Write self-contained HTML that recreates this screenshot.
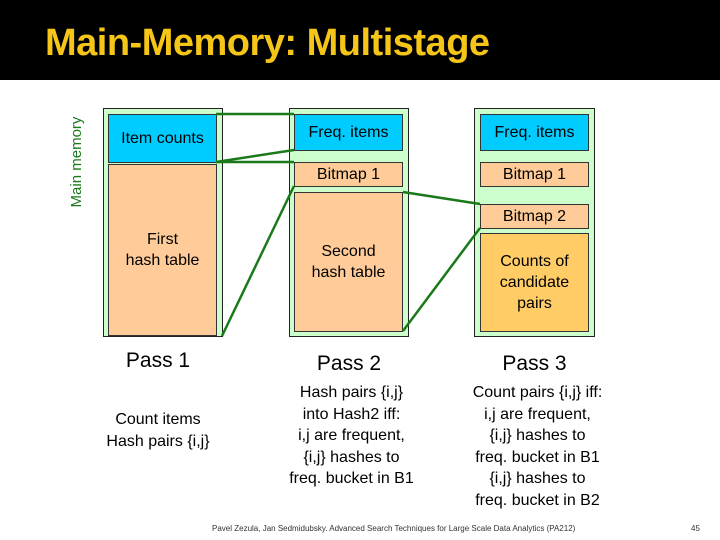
<!DOCTYPE html>
<html><head><style>
body{margin:0;width:720px;height:540px;background:#fff;position:relative;overflow:hidden;font-family:"Liberation Sans",sans-serif;}
.a{position:absolute;box-sizing:border-box;}
.o{background:#ccffcc;border:1px solid #222;}
.b{border:1px solid #333;display:flex;align-items:center;justify-content:center;text-align:center;font-size:16px;color:#000;line-height:21px;}
.cy{background:#00ccff;}
.pe{background:#ffcc99;}
.go{background:#ffcc66;}
.t{position:absolute;text-align:center;color:#000;}
</style></head><body>
<div class="a" style="left:0;top:0;width:720px;height:80px;background:#000;"></div>
<div class="a" style="left:45px;top:22px;font-size:38px;font-weight:bold;color:#f5c518;font-family:'Liberation Sans',sans-serif;letter-spacing:-0.5px;">Main-Memory: Multistage</div>

<div class="a" style="left:68px;top:222px;transform:rotate(-90deg);transform-origin:0 0;width:120px;font-size:15px;color:#1a7a1a;text-align:center;">Main memory</div>

<div class="a o" style="left:103px;top:108px;width:120px;height:229px;"></div>
<div class="a b cy" style="left:108px;top:114px;width:109px;height:49px;">Item counts</div>
<div class="a b pe" style="left:108px;top:164px;width:109px;height:172px;">First<br>hash table</div>

<div class="a o" style="left:289px;top:108px;width:120px;height:229px;"></div>
<div class="a b cy" style="left:294px;top:114px;width:109px;height:37px;">Freq. items</div>
<div class="a b pe" style="left:294px;top:162px;width:109px;height:25px;">Bitmap 1</div>
<div class="a b pe" style="left:294px;top:192px;width:109px;height:140px;">Second<br>hash table</div>

<div class="a o" style="left:474px;top:108px;width:121px;height:229px;"></div>
<div class="a b cy" style="left:480px;top:114px;width:109px;height:37px;">Freq. items</div>
<div class="a b pe" style="left:480px;top:162px;width:109px;height:25px;">Bitmap 1</div>
<div class="a b pe" style="left:480px;top:204px;width:109px;height:25px;">Bitmap 2</div>
<div class="a b go" style="left:480px;top:233px;width:109px;height:99px;">Counts of<br>candidate<br>pairs</div>

<svg class="a" style="left:0;top:0" width="720" height="540">
<g stroke="#1a7a1a" stroke-width="2.5" fill="none">
<line x1="216" y1="114" x2="294" y2="114"/>
<line x1="216" y1="162" x2="294" y2="150"/>
<line x1="216" y1="162" x2="294" y2="162"/>
<line x1="222" y1="336" x2="294" y2="186"/>
<line x1="403" y1="192" x2="480" y2="204"/>
<line x1="403" y1="331" x2="480" y2="228"/>
</g></svg>

<div class="t" style="left:103px;top:349px;width:110px;font-size:21px;">Pass 1</div>
<div class="t" style="left:289px;top:352px;width:120px;font-size:21px;">Pass 2</div>
<div class="t" style="left:474px;top:352px;width:121px;font-size:21px;">Pass 3</div>

<div class="t" style="left:88px;top:409px;width:140px;font-size:16px;line-height:21.5px;">Count items<br>Hash pairs {i,j}</div>
<div class="t" style="left:274px;top:382px;width:155px;font-size:16px;line-height:21.5px;">Hash pairs {i,j}<br>into Hash2 iff:<br>i,j are frequent,<br>{i,j} hashes to<br>freq. bucket in B1</div>
<div class="t" style="left:460px;top:382px;width:155px;font-size:16px;line-height:21.5px;">Count pairs {i,j} iff:<br>i,j are frequent,<br>{i,j} hashes to<br>freq. bucket in B1<br>{i,j} hashes to<br>freq. bucket in B2</div>

<div class="a" style="left:212px;top:524px;font-size:8px;color:#333;white-space:nowrap;">Pavel Zezula, Jan Sedmidubsky. Advanced Search Techniques for Large Scale Data Analytics (PA212)</div>
<div class="a" style="left:691px;top:524px;font-size:8px;color:#333;">45</div>
</body></html>
